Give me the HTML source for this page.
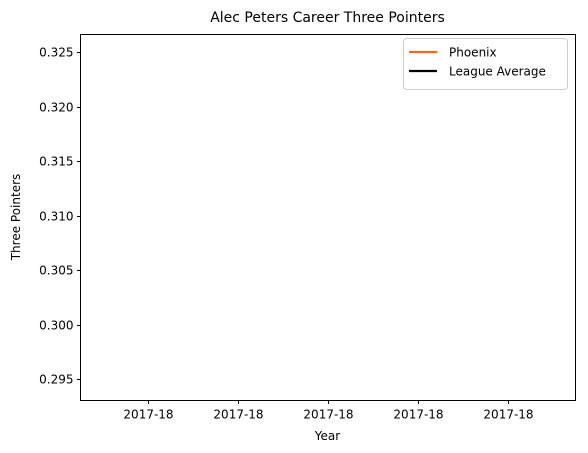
<!DOCTYPE html>
<html><head><meta charset="utf-8"><style>
body{margin:0;background:#fff;}
svg{display:block;font-family:"DejaVu Sans","Liberation Sans",sans-serif;}
</style></head><body>
<svg id="chart" width="588" height="453" viewBox="0 0 588 453">
<rect x="0" y="0" width="588" height="453" fill="#fff"/>
<text x="327.5" y="22" font-size="14" text-anchor="middle">Alec Peters Career Three Pointers</text>
<g id="grid"></g>
<g id="marks"></g>
<rect x="80.5" y="34.5" width="495" height="366" fill="none" stroke="#000" stroke-width="1"/>
<text x="327.5" y="440" font-size="12" text-anchor="middle">Year</text>
<text x="20" y="217" font-size="12" text-anchor="middle" transform="rotate(-90 20 217)">Three Pointers</text>
<g>
<rect x="403.5" y="38.5" width="164" height="51" rx="3" fill="#fff" stroke="#ccc"/>
<line x1="409" y1="52" x2="437" y2="52" stroke="#f26522" stroke-width="2.2"/>
<text x="449" y="56.5" font-size="12">Phoenix</text>
<line x1="409" y1="71" x2="437" y2="71" stroke="#000" stroke-width="2.2"/>
<text x="449" y="75.5" font-size="12">League Average</text>
</g>
</svg>
<script>
const categories = ["2017-18"];
const phoenixValues = [0.31];
const leagueValues = [0.31];
const yTicks = [0.295, 0.300, 0.305, 0.310, 0.315, 0.320, 0.325];
const xTickLabels = ["2017-18","2017-18","2017-18","2017-18","2017-18"];
const xTickValues = [-0.04,-0.02,0,0.02,0.04];

const NS = "http://www.w3.org/2000/svg";
const L=80.5,R=575.5,T=34.5,B=400.5;
const yMin=0.29307,yMax=0.32665,xMin=-0.055,xMax=0.055;
const ys=v=>B-(v-yMin)/(yMax-yMin)*(B-T);
const xs=v=>L+(v-xMin)/(xMax-xMin)*(R-L);
const grid=document.getElementById('grid'), marks=document.getElementById('marks');
function mk(tag,attrs,parent){const e=document.createElementNS(NS,tag);for(const k in attrs)e.setAttribute(k,attrs[k]);parent.appendChild(e);return e;}
yTicks.forEach(v=>{
  const y=Math.round(ys(v))+0.5;
  const t=mk('line',{x1:L-3.5,x2:L,y1:y,y2:y,stroke:'#000'},grid);
  
  
  const tx=mk('text',{x:L-7,y:y+4,'font-size':12,'text-anchor':'end'},grid);
  tx.textContent=v.toFixed(3);
  
  
});
xTickValues.forEach((v,i)=>{
  const x=Math.round(xs(v))+0.5;
  const t=mk('line',{x1:x,x2:x,y1:B,y2:B+3.5,stroke:'#000'},grid);
  
  
  const tx=mk('text',{x:x,y:B+18,'font-size':12,'text-anchor':'middle'},grid);
  tx.textContent=xTickLabels[i];
  
  
});
function series(vals,color,name){
  const pts=vals.map((v,i)=>xs(i)+','+ys(v)).join(' ');
  const p=mk('polyline',{points:pts,fill:'none',stroke:color,'stroke-width':2},marks);
  
  
}
series(phoenixValues,'#f26522','phoenix-line');
series(leagueValues,'#000','league-average-line');
</script>
</body></html>
